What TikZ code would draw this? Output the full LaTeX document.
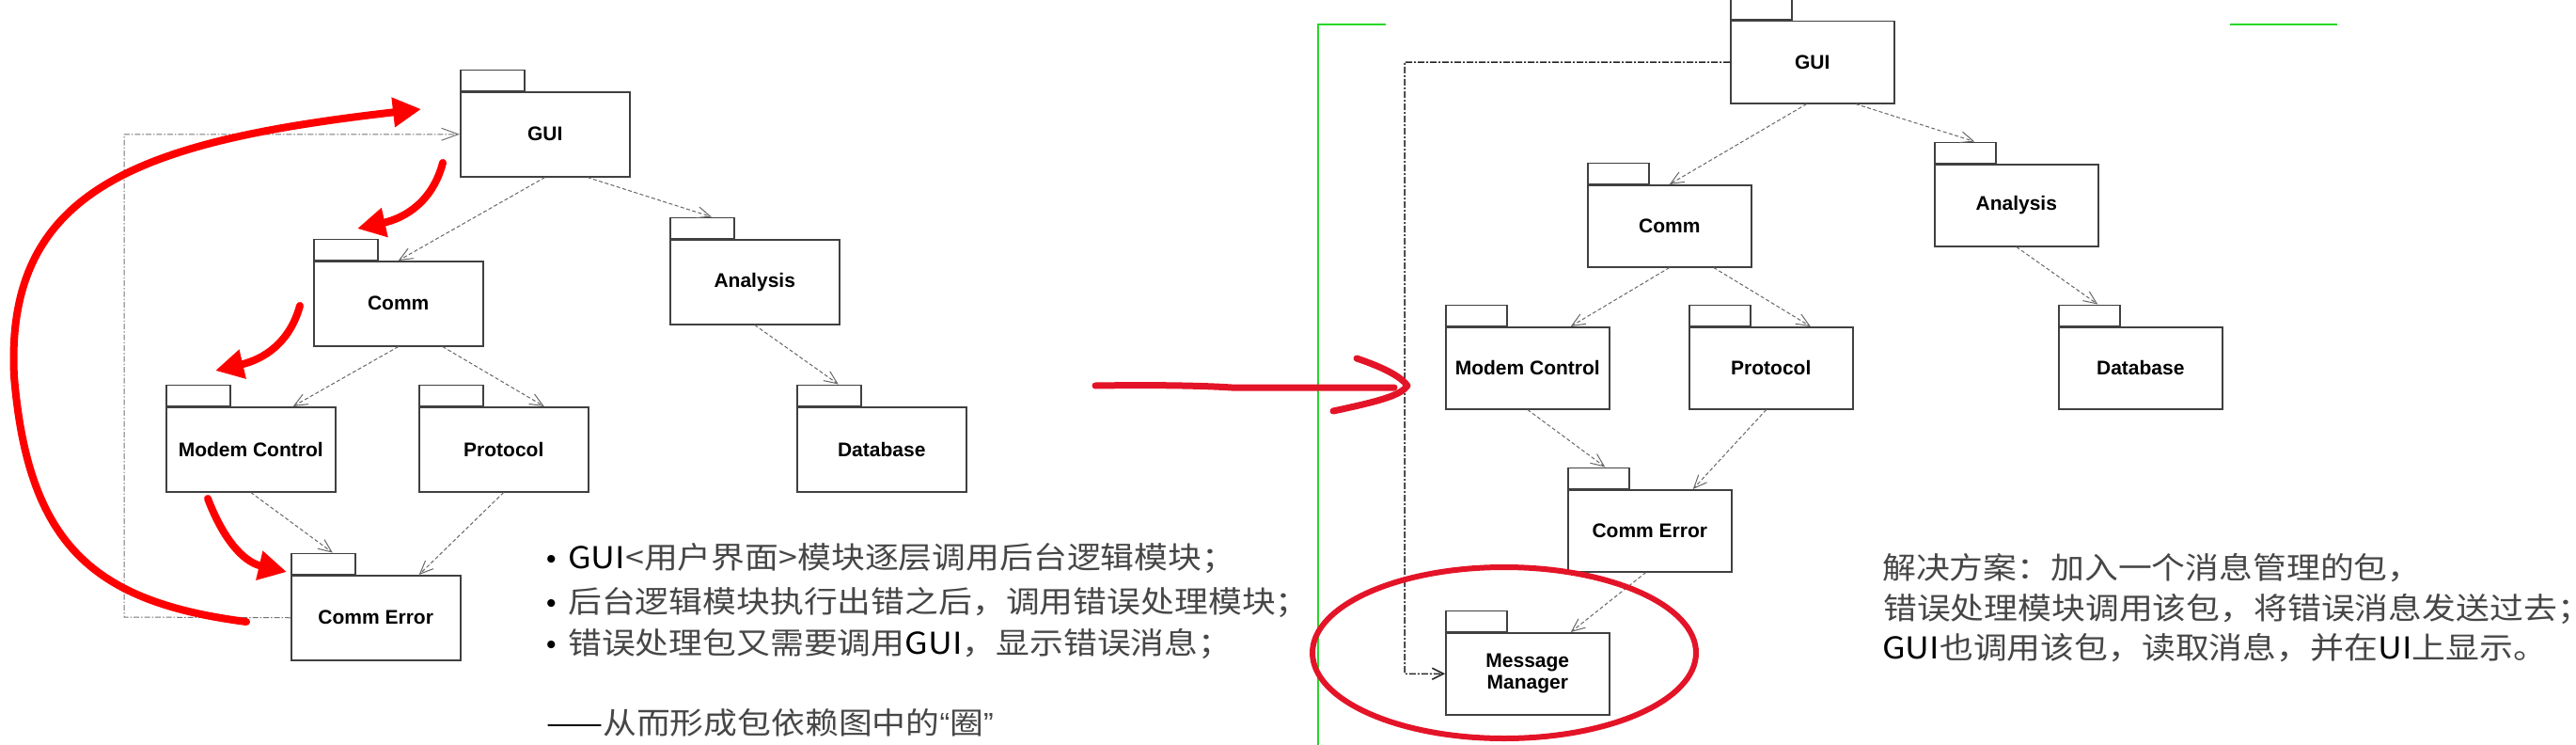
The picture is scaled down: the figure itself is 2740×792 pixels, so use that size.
\documentclass[tikz,border=0pt]{standalone}
\usepackage{fontspec}
\setmainfont{Liberation Sans}
\newfontfamily\cjkfont[FakeStretch=1.12]{Noto Sans CJK SC}
\newfontfamily\latinfont{Liberation Sans}
\usetikzlibrary{arrows.meta}
\definecolor{txtgray}{RGB}{70,70,70}
\definecolor{annred}{RGB}{255,0,0}
\definecolor{annredb}{RGB}{228,20,40}
\definecolor{guide}{RGB}{40,215,40}
\newcommand{\bul}{\makebox[23pt][l]{\textcolor{black}{\latinfont\fontsize{30}{34}\selectfont •}}}
\begin{document}
\begin{tikzpicture}[x=1pt,y=-1pt,
  pkg/.style={draw=black!75, line width=1.5pt, fill=white, minimum width=180pt, minimum height=90pt, inner sep=0pt, anchor=north west, font=\fontsize{21}{23}\selectfont\bfseries, align=center},
  pkgtab/.style={draw=black!75, line width=1.5pt, fill=white, minimum width=68pt, minimum height=22pt, inner sep=0pt, anchor=south west},
  rpkg/.style={pkg, minimum width=174pt, minimum height=87pt},
  rpkgtab/.style={pkgtab, minimum width=65pt},
  dep/.style={draw=black!60, line width=1pt, dash pattern=on 4pt off 2.5pt, -{Straight Barb[length=14pt,width=12pt]}},
  loopL/.style={draw=black!55, line width=1pt, dash pattern=on 6pt off 2pt on 1.5pt off 2pt, -{Straight Barb[length=18pt,width=13pt]}},
  loopR/.style={draw=black!85, line width=1.5pt, dash pattern=on 7pt off 2pt on 2pt off 2pt, -{Straight Barb[length=12pt,width=12pt]}},
  redarrow/.style={draw=annred, line width=8pt, line cap=round, -{Triangle[length=30pt,width=30pt]}},
  handred/.style={draw=annredb, line width=7pt, line cap=round, line join=round},
  guideline/.style={draw=guide, line width=2pt},
  txt/.style={anchor=base west, inner sep=0pt, font=\cjkfont\fontsize{32}{36}\selectfont, text=txtgray},
]
\useasboundingbox (0,0) rectangle (2740,792);

% ---------- left diagram ----------
\node[pkg] (lgui) at (489,97) {GUI};
\node[pkgtab] (lguiT) at (lgui.north west) {};
\node[pkg] (lcomm) at (333,277) {Comm};
\node[pkgtab] (lcommT) at (lcomm.north west) {};
\node[pkg] (lana) at (712,254) {Analysis};
\node[pkgtab] (lanaT) at (lana.north west) {};
\node[pkg] (lmodem) at (176,432) {Modem Control};
\node[pkgtab] (lmodemT) at (lmodem.north west) {};
\node[pkg] (lprot) at (445,432) {Protocol};
\node[pkgtab] (lprotT) at (lprot.north west) {};
\node[pkg] (ldb) at (847,432) {Database};
\node[pkgtab] (ldbT) at (ldb.north west) {};
\node[pkg] (lce) at (309,611) {Comm Error};
\node[pkgtab] (lceT) at (lce.north west) {};

\draw[dep] (lgui.south) -- (lcomm.north);
\draw[dep] ([xshift=45pt]lgui.south) -- ([xshift=10pt]lanaT.north);
\draw[dep] (lana.south) -- ([xshift=10pt]ldbT.north);
\draw[dep] (lcomm.south) -- ([xshift=45pt]lmodem.north);
\draw[dep] ([xshift=47pt]lcomm.south) -- ([xshift=43pt]lprot.north);
\draw[dep] (lmodem.south) -- ([xshift=10pt]lceT.north);
\draw[dep] (lprot.south) -- ([xshift=46pt]lce.north);
\coordinate (lcorner) at (132,656);
\draw[loopL] (lce.west) -- (lcorner) |- (lgui.west);

% red annotations (left)
\draw[redarrow] (262,661) .. controls (100,640) and (30,580) .. (15,400) .. controls (5,200) and (150,150) .. (448,116);
\draw[redarrow] (471,173) .. controls (460,215) and (430,232) .. (380,243);
\draw[redarrow] (319,325) .. controls (308,365) and (280,382) .. (229,394);
\draw[redarrow] (221,530) .. controls (237,572) and (258,597) .. (305,608);

% left texts
\node[txt] (lt1) at (581,604) {\bul\textcolor{black}{GUI}<用户界面>模块逐层调用后台逻辑模块；};
\node[txt] (lt2) at (581,651) {\bul 后台逻辑模块执行出错之后，调用错误处理模块；};
\node[txt] (lt3) at (581,695) {\bul 错误处理包又需要调用\textcolor{black}{GUI}，显示错误消息；};
\node[txt] (lt4) at (581,780) {\textcolor{black}{——}从而形成包依赖图中的{\latinfont “}圈{\latinfont ”}};

% ---------- right diagram ----------
\draw[guideline] (1474,26) -- (1402,26) -- (1402,792);
\draw[guideline] (2372,26) -- (2486,26);

\node[rpkg] (rgui) at (1840,22) {GUI};
\node[rpkgtab] (rguiT) at (rgui.north west) {};
\node[rpkg] (rcomm) at (1688,196) {Comm};
\node[rpkgtab] (rcommT) at (rcomm.north west) {};
\node[rpkg] (rana) at (2057,174) {Analysis};
\node[rpkgtab] (ranaT) at (rana.north west) {};
\node[rpkg] (rmodem) at (1537,347) {Modem Control};
\node[rpkgtab] (rmodemT) at (rmodem.north west) {};
\node[rpkg] (rprot) at (1796,347) {Protocol};
\node[rpkgtab] (rprotT) at (rprot.north west) {};
\node[rpkg] (rdb) at (2189,347) {Database};
\node[rpkgtab] (rdbT) at (rdb.north west) {};
\node[rpkg] (rce) at (1667,520) {Comm Error};
\node[rpkgtab] (rceT) at (rce.north west) {};
\node[rpkg] (rmm) at (1537,672) {Message\\Manager};
\node[rpkgtab] (rmmT) at (rmm.north west) {};

\draw[dep] ([xshift=-6pt]rgui.south) -- (rcomm.north);
\draw[dep] ([xshift=46pt]rgui.south) -- ([xshift=10pt]ranaT.north);
\draw[dep] (rana.south) -- ([xshift=9pt]rdbT.north);
\draw[dep] (rcomm.south) -- ([xshift=46pt]rmodem.north);
\draw[dep] ([xshift=47pt]rcomm.south) -- ([xshift=42pt]rprot.north);
\draw[dep] (rmodem.south) -- ([xshift=7pt]rceT.north);
\draw[dep] ([xshift=-5pt]rprot.south) -- ([xshift=46pt]rce.north);
\draw[dep] ([xshift=-4pt]rce.south) -- ([xshift=46pt]rmm.north);
\coordinate (rcorner) at (1494,66);
\draw[loopR] (rgui.west) -- (rcorner) |- (rmm.west);

% red annotations (right)
\draw[handred] (1165,410) .. controls (1230,409) and (1280,410) .. (1310,412) -- (1483,412);
\draw[handred] (1443,381) .. controls (1470,390) and (1490,400) .. (1497,410) .. controls (1490,420) and (1470,426) .. (1418,437);
\draw[annredb, line width=6pt] (1600,694) ellipse [x radius=204pt, y radius=91pt];

% right texts
\node[txt] (rt1) at (2002,615) {解决方案：加入一个消息管理的包，};
\node[txt] (rt2) at (2003,658) {错误处理模块调用该包，将错误消息发送过去；};
\node[txt] (rt3) at (2002,700) {\textcolor{black}{GUI}也调用该包，读取消息，并在\textcolor{black}{UI}上显示。};
\end{tikzpicture}
\end{document}
